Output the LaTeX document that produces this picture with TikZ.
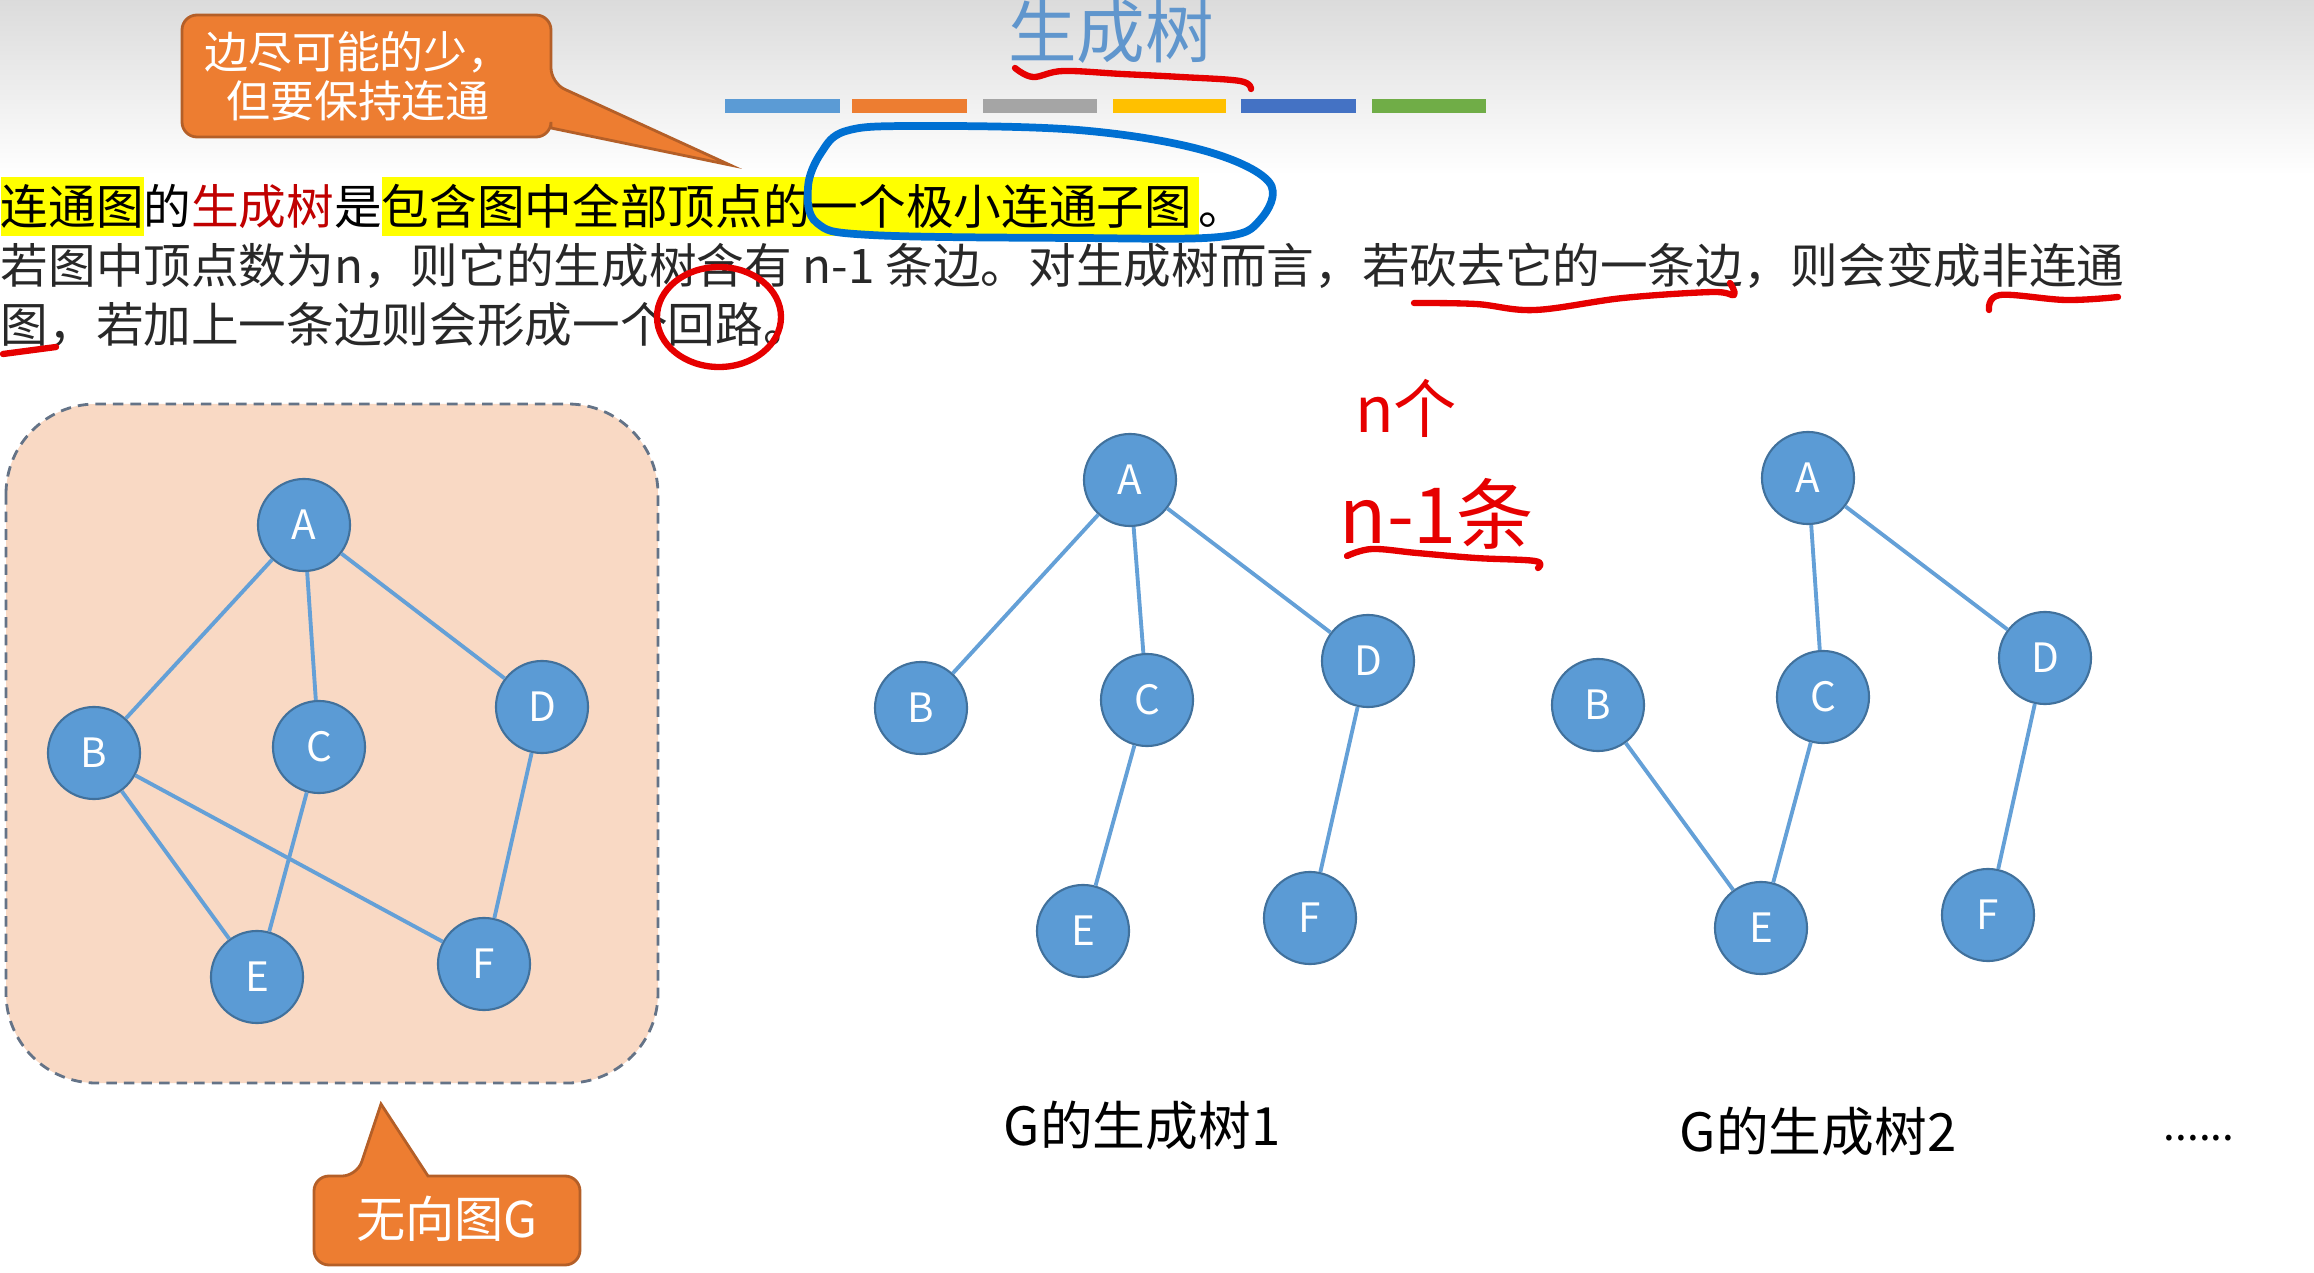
\documentclass[tikz,border=0pt]{standalone}
\usepackage{fontspec}
\setmainfont{Noto Sans CJK SC}
\setlength{\fboxsep}{0pt}
\definecolor{nodeblue}{RGB}{91,155,213}
\definecolor{nodeborder}{RGB}{65,113,156}
\definecolor{edgeblue}{RGB}{100,160,215}
\definecolor{peach}{RGB}{249,217,196}
\definecolor{boxborder}{RGB}{100,115,135}
\definecolor{calloutorange}{RGB}{237,125,49}
\definecolor{calloutborder}{RGB}{180,95,40}
\definecolor{titleblue}{RGB}{96,150,205}
\definecolor{darkred}{RGB}{192,0,0}
\definecolor{hl}{RGB}{255,255,0}
\definecolor{penred}{RGB}{230,0,0}
\definecolor{penblue}{RGB}{0,112,210}
\definecolor{barA}{RGB}{91,155,213}
\definecolor{barB}{RGB}{237,125,49}
\definecolor{barC}{RGB}{165,165,165}
\definecolor{barD}{RGB}{255,192,0}
\definecolor{barE}{RGB}{68,114,196}
\definecolor{barF}{RGB}{112,173,71}
\definecolor{bodytext}{RGB}{40,40,40}
\newcommand{\hlstrut}{\rule[-3.1pt]{0pt}{16.8pt}}
\begin{document}
\begin{tikzpicture}[x=0.01cm,y=-0.01cm,
  vtx/.style={circle, fill=nodeblue, draw=nodeborder, line width=0.6pt,
    minimum size=0.92cm, inner sep=0pt, text=white,
    font=\fontsize{11.5}{13}\selectfont},
  link/.style={draw=edgeblue, line width=1.1pt},
  pen/.style={draw=penred, line width=1.8pt, line cap=round, line join=round},
  callout/.style={fill=calloutorange, draw=calloutborder, line width=0.8pt},
  bodyline/.style={anchor=base west, inner sep=0pt, text=bodytext,
    font=\fontsize{13.55}{16}\selectfont},
  caption/.style={font=\fontsize{15}{18}\selectfont, text=black}
]
\useasboundingbox (0,0) rectangle (2314,1273);
% top gradient
\shade[top color=black!14, bottom color=white] (0,0) rectangle (2314,175);

% title
\node[text=titleblue, font=\fontsize{19.5}{22}\selectfont, inner sep=0pt] (title) at (1111,32) {生成树};
\draw[pen] plot[smooth, tension=0.6] coordinates {(1015,68) (1033,77) (1063,71) (1122,74) (1181,77) (1240,81) (1251,89)};

% colour bars
\fill[barA] (725,99) rectangle (840,113);
\fill[barB] (852,99) rectangle (967,113);
\fill[barC] (983,99) rectangle (1097,113);
\fill[barD] (1113,99) rectangle (1226,113);
\fill[barE] (1241,99) rectangle (1356,113);
\fill[barF] (1372,99) rectangle (1486,113);

% top callout
\draw[callout, rounded corners=0.15cm] (182,70) -- (182,15) -- (551,15) -- (551,83)
  [sharp corners] -- (730,165) -- (551,128) [rounded corners=0.15cm] -- (551,137) -- (182,137) -- cycle;
\node[text=white, align=center, font=\fontsize{12.5}{13.8}\selectfont] (c1) at (358,76) {边尽可能的少，\\但要保持连通};

% body text
\node[bodyline, text=black] (l1) at (0,225) {\colorbox{hl}{\hlstrut 连通图}的\textcolor{darkred}{生成树}是\colorbox{hl}{\hlstrut 包含图中全部顶点的一个极小连通子图\hspace{2pt}}。};
\node[bodyline] (l2) at (0,284) {若图中顶点数为n，则它的生成树含有 n-1 条边。对生成树而言，若砍去它的一条边，则会变成非连通};
\node[bodyline] (l3) at (0,343) {图，若加上一条边则会形成一个回路。};

% handwritten marks
\draw[draw=penblue, line width=2.2pt, line cap=round] plot[smooth cycle, tension=0.6] coordinates {(846,131) (912,126) (1078,130) (1202,150) (1269,182) (1260,220) (1219,237) (1078,238) (871,235) (817,223) (808,187) (821,153)};
\draw[pen] (719,317) ellipse [x radius=62, y radius=50];
\draw[pen] plot[smooth, tension=0.6] coordinates {(1414,303) (1476,304) (1535,310) (1623,298) (1712,292) (1734,295) (1730,283)};
\draw[pen] plot[smooth, tension=0.6] coordinates {(1989,310) (2000,295) (2066,300) (2118,297)};
\draw[pen] (3,354) -- (56,347);
\node[text=penred, font=\fontsize{18}{20}\selectfont] (hn) at (1406,408) {n个};
\node[text=penred, font=\fontsize{22}{24}\selectfont] (hn1) at (1437,514) {n-1条};
\draw[pen] plot[smooth, tension=0.6] coordinates {(1347,556) (1372,549) (1417,553) (1476,558) (1535,561) (1538,568)};

% left graph box
\draw[fill=peach, draw=boxborder, line width=0.8pt, dash pattern=on 3pt off 2pt, rounded corners=0.9cm] (6,404) rectangle (658,1083);

\node[vtx] (gA) at (304,525) {A};
\node[vtx] (gB) at (94,753) {B};
\node[vtx] (gC) at (319,747) {C};
\node[vtx] (gD) at (542,707) {D};
\node[vtx] (gE) at (257,977) {E};
\node[vtx] (gF) at (484,964) {F};
\draw[link] (gA) -- (gB);
\draw[link] (gA) -- (gC);
\draw[link] (gA) -- (gD);
\draw[link] (gB) -- (gE);
\draw[link] (gB) -- (gF);
\draw[link] (gC) -- (gE);
\draw[link] (gD) -- (gF);

% bottom callout
\draw[callout, rounded corners=0.15cm] (314,1220) -- (314,1176) -- (357,1176)
  [sharp corners] -- (381,1104) -- (428,1176) [rounded corners=0.15cm] -- (580,1176) -- (580,1265) -- (314,1265) -- cycle;
\node[text=white, font=\fontsize{14}{16}\selectfont] (c2) at (447,1219) {无向图G};

% tree 1
\node[vtx] (aA) at (1130,480) {A};
\node[vtx] (aB) at (921,708) {B};
\node[vtx] (aC) at (1147,700) {C};
\node[vtx] (aD) at (1368,661) {D};
\node[vtx] (aE) at (1083,931) {E};
\node[vtx] (aF) at (1310,918) {F};
\draw[link] (aA) -- (aB);
\draw[link] (aA) -- (aC);
\draw[link] (aA) -- (aD);
\draw[link] (aC) -- (aE);
\draw[link] (aD) -- (aF);

% tree 2
\node[vtx] (bA) at (1808,478) {A};
\node[vtx] (bB) at (1598,705) {B};
\node[vtx] (bC) at (1823,697) {C};
\node[vtx] (bD) at (2045,658) {D};
\node[vtx] (bE) at (1761,928) {E};
\node[vtx] (bF) at (1988,915) {F};
\draw[link] (bA) -- (bC);
\draw[link] (bA) -- (bD);
\draw[link] (bB) -- (bE);
\draw[link] (bC) -- (bE);
\draw[link] (bD) -- (bF);

% captions
\node[caption] (cap1) at (1142,1126) {G的生成树1};
\node[caption] (cap2) at (1818,1132) {G的生成树2};
\node[caption, font=\fontsize{12}{14}\selectfont] (dots) at (2199,1138) {......};
\end{tikzpicture}
\end{document}
